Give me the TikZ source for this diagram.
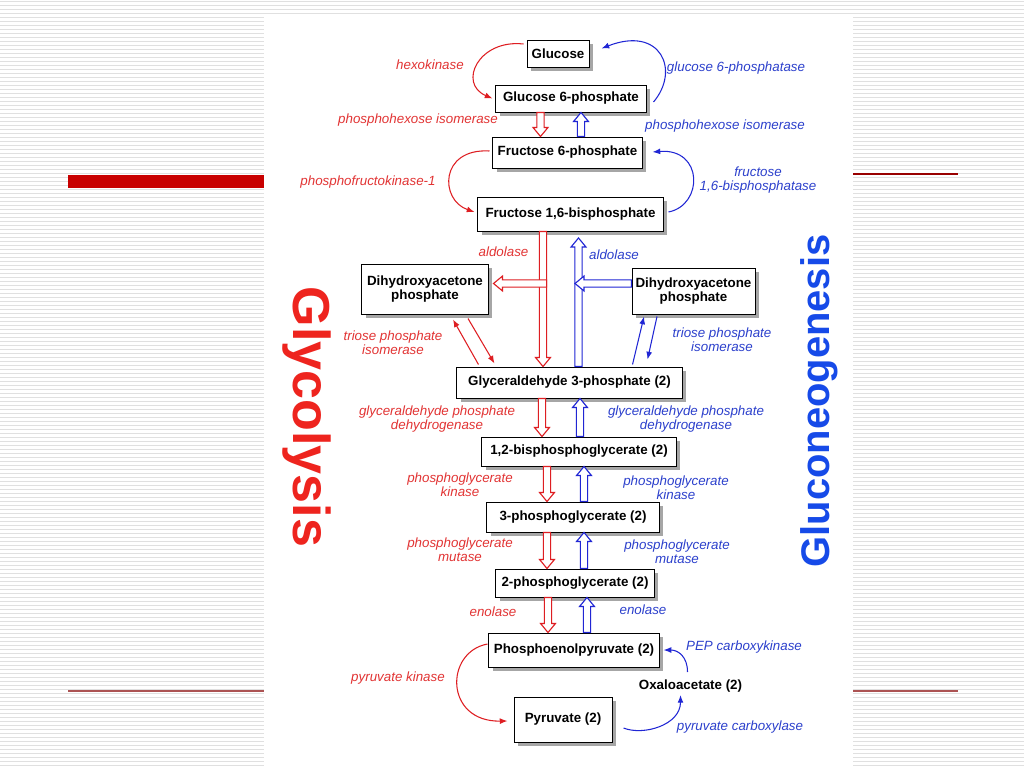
\documentclass[tikz,border=0pt]{standalone}
\usepackage{fontspec}
\setmainfont{Liberation Sans}
\usetikzlibrary{calc,shadows,arrows.meta}
\definecolor{pathred}{RGB}{222,30,34}
\definecolor{pathblue}{RGB}{32,38,212}
\definecolor{labred}{RGB}{226,52,52}
\definecolor{labblue}{RGB}{44,64,204}
\definecolor{titlered}{RGB}{238,36,30}
\definecolor{titleblue}{RGB}{22,74,232}
\definecolor{barred}{RGB}{200,0,0}
\begin{document}
\begin{tikzpicture}[x=0.025cm, y=-0.025cm]
	\tikzset{>={Latex[length=5.5pt,width=4.2pt]}}
	\tikzset{
		box/.style={draw, fill=white, line width=0.7pt, inner sep=0pt, align=center,
			font=\fontsize{9.5}{10}\selectfont\bfseries,
			drop shadow={shadow xshift=2.6pt, shadow yshift=-2.6pt, fill=black!35, opacity=1}},
		lab/.style={inner sep=0pt, align=center, font=\fontsize{9.5}{10}\selectfont\itshape},
		enz/.style={->, line width=0.75pt},
		stripe/.style={black!12, line width=0.9pt},
		fat/.style={line width=0.8pt, fill=white, to path={
			let \p1=(\tikztostart), \p2=(\tikztotarget),
				\n1={veclen(\x2-\x1,\y2-\y1)},
				\n2={(\x2-\x1)/\n1}, \n3={(\y2-\y1)/\n1}
			in ({\x1-2.6*(\n3)},{\y1+2.6*(\n2)})
			-- ({\x2-6.4*(\n2)-2.6*(\n3)},{\y2-6.4*(\n3)+2.6*(\n2)})
			-- ({\x2-6.4*(\n2)-5.3*(\n3)},{\y2-6.4*(\n3)+5.3*(\n2)})
			-- (\x2,\y2)
			-- ({\x2-6.4*(\n2)+5.3*(\n3)},{\y2-6.4*(\n3)-5.3*(\n2)})
			-- ({\x2-6.4*(\n2)+2.6*(\n3)},{\y2-6.4*(\n3)-2.6*(\n2)})
			-- ({\x1+2.6*(\n3)},{\y1-2.6*(\n2)}) -- cycle}}
	}
	\useasboundingbox (0,0) rectangle (1024,768);
	% slide background
	\fill[white] (0,0) rectangle (1024,768);
	\foreach \i in {0,...,191}
		\draw[stripe] (0,\i*4+1.5) -- (1024,\i*4+1.5);
	\fill[white] (264,15) rectangle (853,768);
	\fill[barred] (68,175) rectangle (264,188);
	\draw[red!60!black, line width=0.8pt] (853,174) -- (958,174);
	\draw[red!35!gray, line width=0.8pt] (68,691) -- (264,691);
	\draw[red!35!gray, line width=0.8pt] (853,691) -- (958,691);

	% titles
	\node[rotate=-90, text=titlered, font=\fontsize{37}{37}\selectfont\bfseries] (glyco) at (307,417) {Glycolysis};
	\node[rotate=90, text=titleblue, font=\fontsize{28.4}{28.4}\selectfont\bfseries] (gluco) at (819,401) {Gluconeogenesis};

	% metabolites
	\node[box, minimum width=1.55cm, minimum height=0.675cm] (glc) at (558,54) {Glucose};
	\node[box, minimum width=3.75cm, minimum height=0.675cm] (g6p) at (571,98.5) {Glucose 6-phosphate};
	\node[box, minimum width=3.725cm, minimum height=0.775cm] (f6p) at (567.5,152.5) {Fructose 6-phosphate};
	\node[box, minimum width=4.625cm, minimum height=0.85cm] (fbp) at (570.5,214) {Fructose 1,6-bisphosphate};
	\node[box, minimum width=3.15cm, minimum height=1.25cm] (dhapl) at (425,289) {Dihydroxyacetone\\phosphate};
	\node[box, minimum width=3.075cm, minimum height=1.15cm] (dhapr) at (693.5,291) {Dihydroxyacetone\\phosphate};
	\node[box, minimum width=5.625cm, minimum height=0.775cm] (gap) at (569.5,382.5) {Glyceraldehyde 3-phosphate (2)};
	\node[box, minimum width=4.85cm, minimum height=0.725cm] (bpg) at (579,451.5) {1,2-bisphosphoglycerate (2)};
	\node[box, minimum width=4.3cm, minimum height=0.75cm] (pg3) at (573,517) {3-phosphoglycerate (2)};
	\node[box, minimum width=3.95cm, minimum height=0.7cm] (pg2) at (575,583) {2-phosphoglycerate (2)};
	\node[box, minimum width=4.25cm, minimum height=0.85cm] (pep) at (574,650) {Phosphoenolpyruvate (2)};
	\node[box, minimum width=2.45cm, minimum height=1.125cm] (pyr) at (563,719.5) {Pyruvate (2)};
	\node[inner sep=0pt, font=\fontsize{9.5}{10}\selectfont\bfseries] (oxa) at (690.5,686) {Oxaloacetate (2)};

	% columns of the hollow arrows
	\coordinate (r1) at (540.5,0);
	\coordinate (b1) at (581,0);
	\coordinate (r2) at (543,0);
	\coordinate (b2) at (578.5,0);
	\coordinate (r3) at (542,0);
	\coordinate (b3) at (580,0);
	\coordinate (r4) at (547,0);
	\coordinate (b4) at (584,0);
	\coordinate (r5) at (547,0);
	\coordinate (b5) at (584,0);
	\coordinate (r6) at (548,0);
	\coordinate (b6) at (587,0);
	\coordinate (btip) at (578.5,238);
	\coordinate (aldr) at (546.6,283.5);
	\coordinate (aldb) at (575,283.5);

	% hollow arrows
	\draw[fat, draw=pathred] (g6p.south -| r1) to (f6p.north -| r1);
	\draw[fat, draw=pathblue] (f6p.north -| b1) to (g6p.south -| b1);
	\draw[fat, draw=pathred] (fbp.south -| r2) to (gap.north -| r2);
	\draw[fat, draw=pathred] (aldr) to ($(dhapl.east |- aldr)+(5,0)$);
	\draw[fat, draw=pathblue] (gap.north -| b2) to (btip);
	\draw[fat, draw=pathblue] (dhapr.west |- aldb) to (aldb);
	\draw[fat, draw=pathred] (gap.south -| r3) to (bpg.north -| r3);
	\draw[fat, draw=pathblue] (bpg.north -| b3) to (gap.south -| b3);
	\draw[fat, draw=pathred] (bpg.south -| r4) to (pg3.north -| r4);
	\draw[fat, draw=pathblue] (pg3.north -| b4) to (bpg.south -| b4);
	\draw[fat, draw=pathred] (pg3.south -| r5) to (pg2.north -| r5);
	\draw[fat, draw=pathblue] (pg2.north -| b5) to (pg3.south -| b5);
	\draw[fat, draw=pathred] (pg2.south -| r6) to (pep.north -| r6);
	\draw[fat, draw=pathblue] (pep.north -| b6) to (pg2.south -| b6);

	% curved and straight enzyme arrows
	\draw[enz, pathred] ([shift={(-3,-10)}]glc.west) .. controls +(-45,-5) and +(-35,-15) .. ([shift={(-3,0)}]g6p.west);
	\draw[enz, pathblue] ([shift={(7,3.5)}]g6p.east) .. controls +(27,-32) and +(59,-23) .. ([shift={(12,-5.5)}]glc.east);
	\draw[enz, pathred] ([shift={(-3,-1.5)}]f6p.west) .. controls +(-50,-3) and +(-35,-12) .. ([shift={(-3,-2)}]fbp.west);
	\draw[enz, pathblue] ([shift={(5,-2)}]fbp.east) .. controls +(35,-7) and +(51,-4) .. ([shift={(10,-0.5)}]f6p.east);
	\draw[enz, pathred] ([shift={(22,-2)}]gap.north west) -- ([shift={(28,5)}]dhapl.south);
	\draw[enz, pathred] ([shift={(43,4)}]dhapl.south) -- ([shift={(38,-3)}]gap.north west);
	\draw[enz, pathblue] ([shift={(-50,-2)}]gap.north east) -- ([shift={(-49.5,2)}]dhapr.south);
	\draw[enz, pathblue] ([shift={(-36.5,2)}]dhapr.south) -- ([shift={(-35,-7)}]gap.north east);
	\draw[enz, pathred] ([shift={(-1,-6)}]pep.west) .. controls +(-43,8) and +(-63,1) .. ([shift={(-6,1.5)}]pyr.west);
	\draw[enz, pathblue] ([shift={(-3,-14)}]oxa.center) .. controls +(0,-15) and +(15,0) .. ([shift={(4,0)}]pep.east);
	\draw[enz, pathblue] ([shift={(11,8.5)}]pyr.east) .. controls +(20,8) and +(0,30) .. ([shift={(-10,9)}]oxa.center);

	% enzyme names
	\node[lab, text=labred] (hk) at (430,65) {hexokinase};
	\node[lab, text=labred] (phi1) at (418,120) {phosphohexose isomerase};
	\node[lab, text=labred] (pfk) at (368,182) {phosphofructokinase-1};
	\node[lab, text=labred] (ald1) at (503.5,252) {aldolase};
	\node[lab, text=labred] (tpi1) at (393,343) {triose phosphate\\isomerase};
	\node[lab, text=labred] (gapdh1) at (437,419) {glyceraldehyde phosphate\\dehydrogenase};
	\node[lab, text=labred] (pgk1) at (460,485) {phosphoglycerate\\kinase};
	\node[lab, text=labred] (pgm1) at (460,550) {phosphoglycerate\\mutase};
	\node[lab, text=labred] (eno1) at (493,612) {enolase};
	\node[lab, text=labred] (pk) at (398,678) {pyruvate kinase};
	\node[lab, text=labblue] (g6pase) at (736,68) {glucose 6-phosphatase};
	\node[lab, text=labblue] (phi2) at (725,126) {phosphohexose isomerase};
	\node[lab, text=labblue] (fbpase) at (758,180.5) {fructose\\1,6-bisphosphatase};
	\node[lab, text=labblue] (ald2) at (614,255) {aldolase};
	\node[lab, text=labblue] (tpi2) at (722,339.5) {triose phosphate\\isomerase};
	\node[lab, text=labblue] (gapdh2) at (686,419) {glyceraldehyde phosphate\\dehydrogenase};
	\node[lab, text=labblue] (pgk2) at (676,487.5) {phosphoglycerate\\kinase};
	\node[lab, text=labblue] (pgm2) at (677,551.5) {phosphoglycerate\\mutase};
	\node[lab, text=labblue] (eno2) at (643,610) {enolase};
	\node[lab, text=labblue] (pepck) at (744,647) {PEP carboxykinase};
	\node[lab, text=labblue] (pc) at (740,727) {pyruvate carboxylase};
\end{tikzpicture}
\end{document}
